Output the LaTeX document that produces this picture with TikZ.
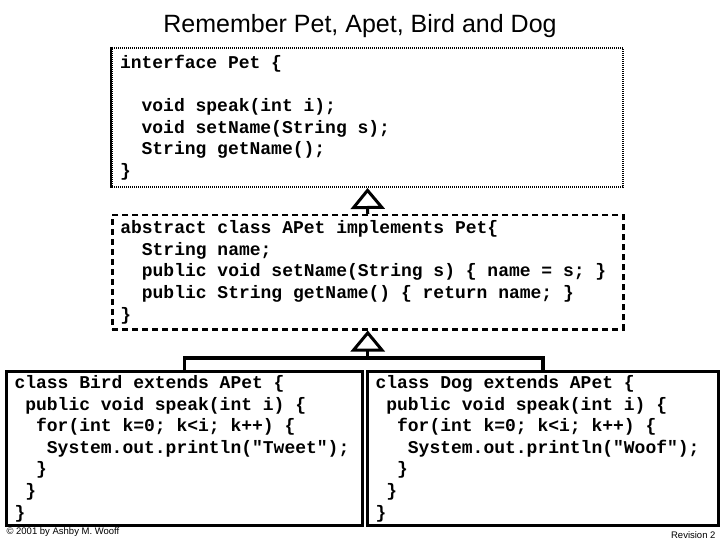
\documentclass[tikz,border=0pt]{standalone}
\usepackage{fontspec}
\setmainfont{Liberation Sans}
\setmonofont{Liberation Mono}
\usetikzlibrary{arrows.meta}
\newcommand{\indn}[1]{\hspace*{#1\fontcharwd\font`M}}
\newcommand{\codefont}{\fontsize{18}{21.6}\selectfont\ttfamily\bfseries}

\begin{document}
\begin{tikzpicture}[x=1pt,y=-1pt,
        code/.style={anchor=north west,align=flush left,inner xsep=8pt,inner ysep=4pt,font=\codefont},
        iface/.style={code,draw,line width=2pt,dash pattern=on 1pt off 1pt},
        abst/.style={code,draw,line width=2.5pt,dash pattern=on 6pt off 4pt},
        cls/.style={code,draw,line width=3pt},
        gen/.style={-{Triangle[open,length=21pt,width=34pt]},line width=3pt}]
    \useasboundingbox (0,0) rectangle (720,540);
    \node (title) at (360,26) {\fontsize{25}{30}\selectfont Remember Pet, Apet, Bird and Dog};
    \node[iface,text width=495pt,minimum width=511pt,minimum height=139pt] (pet) at (111,47)
        {interface Pet \{\\ \mbox{}\\
         \indn2void speak(int i);\\
         \indn2void setName(String s);\\
         \indn2String getName();\\
         \}};
    \draw[line width=2.5pt] (pet.north west) -- (pet.south west);
    \node[abst,text width=495pt,minimum width=511pt,minimum height=114pt] (apet) at (111,214)
        {abstract class APet implements Pet\{\\
         \indn2String name;\\
         \indn2public void setName(String s) \{ name = s; \}\\
         \indn2public String getName() \{ return name; \}\\
         \}};
    \node[cls,text width=340pt,minimum width=356pt,minimum height=154pt] (bird) at (5,370)
        {class Bird extends APet \{\\
         \indn1public void speak(int i) \{\\
         \indn2for(int k=0; k<i; k++) \{\\
         \indn3System.out.println("Tweet");\\
         \indn2\}\\
         \indn1\}\\
         \}};
    \node[cls,text width=335pt,minimum width=351pt,minimum height=154pt] (dog) at (366,370)
        {class Dog extends APet \{\\
         \indn1public void speak(int i) \{\\
         \indn2for(int k=0; k<i; k++) \{\\
         \indn3System.out.println("Woof");\\
         \indn2\}\\
         \indn1\}\\
         \}};
    \node[anchor=west] (copy) at (3,532) {\fontsize{9.5}{11}\selectfont © 2001 by Ashby M. Wooff};
    \node[anchor=east] (rev) at (719,535) {\fontsize{9.5}{11}\selectfont Revision 2};
    % generalisation arrows
    \draw[gen] (apet.north) -- (pet.south);
    \coordinate (join) at (apet.south |- 0,358);
    \draw[line width=3.5pt] (bird.north) |- (join) -| (dog.north);
    \draw[gen] (join) -- (apet.south);
\end{tikzpicture}
\end{document}
